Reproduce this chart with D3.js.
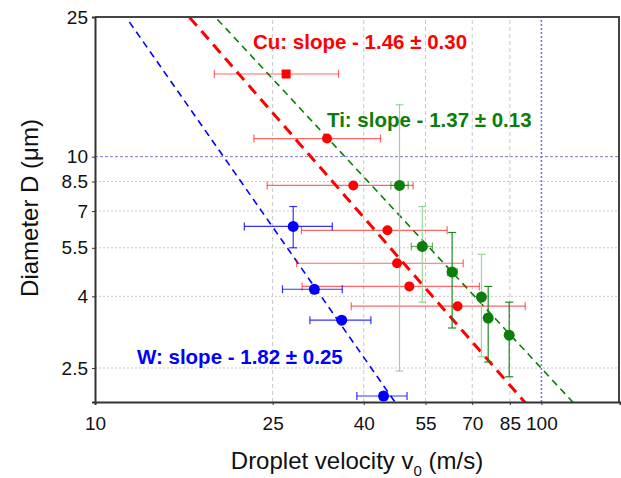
<html>
<head>
  <style>
    body { margin: 0; background: #fff; font-family: "Liberation Sans", Arial, sans-serif; }
    .tick text { font-size: 19px; fill: #111; }
  </style>
</head>
<body>
  <div id="chart"></div>
  <script src="https://d3js.org/d3.v7.min.js"></script>
  <script>
    // ticks
    var xTicks = [10, 25, 40, 55, 70, 85, 100];
    var yTicks = [2.5, 4, 5.5, 7, 8.5, 10, 25];

    // Cu: velocity, diameter, velocity error range
    var cuV   = [26.8, 33.1, 37.9, 45.2, 47.5, 50.6, 64.9];
    var cuD   = [17.2, 11.26, 8.28, 6.17, 4.97, 4.27, 3.75];
    var cuVlo = [18.5, 22.7, 24.3, 29.0, 28.3, 29.1, 37.5];
    var cuVhi = [35.1, 43.6, 51.6, 61.5, 66.8, 72.6, 92.0];

    // Ti
    var tiV   = [48.1, 54.1, 63.1, 73.4, 76.0, 84.7];
    var tiD   = [8.28, 5.55, 4.69, 3.98, 3.47, 3.10];
    var tiDlo = [2.45, 3.85, 3.25, 2.69, 2.60, 2.36];
    var tiDhi = [14.06, 7.21, 6.08, 5.27, 4.27, 3.85];
    var tiVlo = [46.0, 51.1, 61.6, 73.4, 76.0, 84.7];
    var tiVhi = [50.3, 57.0, 64.8, 73.4, 76.0, 84.7];

    // W
    var wV   = [27.8, 31.0, 35.7, 44.3];
    var wD   = [6.33, 4.19, 3.42, 2.08];
    var wVlo = [21.6, 26.3, 30.3, 38.6];
    var wVhi = [34.0, 35.8, 41.5, 50.0];
    var wDlo = [5.5, 4.19, 3.42, 2.03];
    var wDhi = [7.21, 4.19, 3.42, 2.13];

    // fits: log10 D = a - s * log10 v
    var fitNames = ["Cu", "Ti", "W"];
    var fitA     = [3.166, 3.137, 3.344];
    var fitSlope = [1.46, 1.37, 1.82];
    var fitErr   = ["0.30", "0.13", "0.25"];

    var width = 621, height = 478;
    var margin = { left: 95, right: 1, top: 17, bottom: 76 };

    var svg = d3.select("#chart").append("svg")
      .attr("width", width).attr("height", height);

    var x = d3.scaleLog().domain([10, 150]).range([margin.left, width - margin.right]);
    var y = d3.scaleLog().domain([2, 25]).range([height - margin.bottom, margin.top]);

    svg.append("clipPath").attr("id", "clip").append("rect")
      .attr("x", margin.left).attr("y", margin.top)
      .attr("width", x.range()[1] - margin.left).attr("height", y.range()[0] - margin.top);

    // grid
    var grid = svg.append("g");
    xTicks.slice(1).forEach(function (t) {
      grid.append("line")
        .attr("x1", x(t)).attr("x2", x(t)).attr("y1", y(2)).attr("y2", y(25))
        .attr("stroke", t === 100 ? "#6b6bf0" : "#c8c8c8")
        .attr("stroke-width", t === 100 ? 1.5 : 1)
        .attr("stroke-dasharray", t === 100 ? "2,2" : "4,3");
    });
    yTicks.slice(0, -1).forEach(function (t) {
      grid.append("line")
        .attr("x1", x(10)).attr("x2", x(150)).attr("y1", y(t)).attr("y2", y(t))
        .attr("stroke", t === 10 ? "#7a7ad8" : "#c8c8c8")
        .attr("stroke-width", 1)
        .attr("stroke-dasharray", t === 10 ? "3,2" : "2,2");
    });

    // fit lines
    var fitColor = ["#ff0000", "#0a7d0a", "#0000ff"];
    var fitWidth = [3, 1.6, 1.6];
    var fitDash  = ["11,7", "7,5", "7,5"];
    var vs = d3.range(0, 61).map(function (i) { return 10 * Math.pow(15, i / 60); });
    var line = d3.line().x(function (d) { return x(d[0]); }).y(function (d) { return y(d[1]); });
    var fits = svg.append("g").attr("clip-path", "url(#clip)");
    fitNames.forEach(function (n, k) {
      fits.append("path")
        .attr("d", line(vs.map(function (v) { return [v, Math.pow(10, fitA[k] - fitSlope[k] * Math.log10(v))]; })))
        .attr("fill", "none")
        .attr("stroke", fitColor[k])
        .attr("stroke-width", fitWidth[k])
        .attr("stroke-dasharray", fitDash[k]);
    });

    var marks = svg.append("g").attr("clip-path", "url(#clip)");

    function hbar(g, lo, hi, yy, color, op) {
      g.append("line").attr("x1", x(lo)).attr("x2", x(hi)).attr("y1", y(yy)).attr("y2", y(yy))
        .attr("stroke", color).attr("stroke-opacity", op).attr("stroke-width", 1.2);
      [lo, hi].forEach(function (v) {
        g.append("line").attr("x1", x(v)).attr("x2", x(v)).attr("y1", y(yy) - 4).attr("y2", y(yy) + 4)
          .attr("stroke", color).attr("stroke-opacity", op).attr("stroke-width", 1.2);
      });
    }
    function vbar(g, lo, hi, xx, color, op) {
      g.append("line").attr("x1", x(xx)).attr("x2", x(xx)).attr("y1", y(lo)).attr("y2", y(hi))
        .attr("stroke", color).attr("stroke-opacity", op).attr("stroke-width", 1.2);
      [lo, hi].forEach(function (d) {
        g.append("line").attr("x1", x(xx) - 4).attr("x2", x(xx) + 4).attr("y1", y(d)).attr("y2", y(d))
          .attr("stroke", color).attr("stroke-opacity", op).attr("stroke-width", 1.2);
      });
    }

    // Cu
    cuV.forEach(function (v, i) {
      hbar(marks, cuVlo[i], cuVhi[i], cuD[i], "#ff0000", 0.6);
    });
    // Ti: some bars drawn light, some dark
    var tiCol = ["#8fd08f", "#8fd08f", "#0a7d0a", "#8fd08f", "#0a7d0a", "#0a7d0a"];
    tiV.forEach(function (v, i) {
      vbar(marks, tiDlo[i], tiDhi[i], v, tiCol[i], 0.9);
      if (tiVhi[i] > tiVlo[i]) hbar(marks, tiVlo[i], tiVhi[i], tiD[i], "#0a7d0a", 0.6);
    });
    // W
    wV.forEach(function (v, i) {
      hbar(marks, wVlo[i], wVhi[i], wD[i], "#0000ff", 0.8);
      if (wDhi[i] > wDlo[i]) vbar(marks, wDlo[i], wDhi[i], v, "#0000ff", 0.8);
    });

    // markers
    cuV.forEach(function (v, i) {
      if (i === 0) {
        marks.append("rect").attr("x", x(v) - 4.5).attr("y", y(cuD[i]) - 4.5)
          .attr("width", 9).attr("height", 9).attr("fill", "#ff0000");
      } else {
        marks.append("circle").attr("cx", x(v)).attr("cy", y(cuD[i])).attr("r", 5).attr("fill", "#ff0000");
      }
    });
    tiV.forEach(function (v, i) {
      marks.append("circle").attr("cx", x(v)).attr("cy", y(tiD[i])).attr("r", 5.5).attr("fill", "#0a7d0a");
    });
    wV.forEach(function (v, i) {
      marks.append("circle").attr("cx", x(v)).attr("cy", y(wD[i])).attr("r", 5.5).attr("fill", "#0000ff");
    });

    // frame
    svg.append("line").attr("x1", x(10)).attr("x2", x(150)).attr("y1", y(25)).attr("y2", y(25))
      .attr("stroke", "#444").attr("stroke-width", 2);
    svg.append("line").attr("x1", x(150) - 1).attr("x2", x(150) - 1).attr("y1", y(25)).attr("y2", y(2))
      .attr("stroke", "#444").attr("stroke-width", 2);

    // axes
    var xAxis = svg.append("g").attr("transform", "translate(0," + y(2) + ")")
      .call(d3.axisBottom(x).tickValues(xTicks).tickFormat(d3.format("d")).tickSize(3).tickPadding(12));
    var yAxis = svg.append("g").attr("transform", "translate(" + x(10) + ",0)")
      .call(d3.axisLeft(y).tickValues(yTicks).tickFormat(function (d) { return d; }).tickSize(3).tickPadding(4));
    [xAxis, yAxis].forEach(function (a) {
      a.select(".domain").attr("stroke", "#333").attr("stroke-width", 2);
      a.selectAll(".tick line").attr("stroke", "#333");
      a.selectAll(".tick text").attr("font-family", "Liberation Sans, Arial, sans-serif");
    });

    // annotations
    var ann = [[253, 49], [327, 127], [137, 364]];
    fitNames.forEach(function (n, k) {
      svg.append("text")
        .attr("x", ann[k][0]).attr("y", ann[k][1])
        .attr("fill", fitColor[k])
        .style("font-size", "20.5px").style("font-weight", "bold")
        .text(n + ": slope - " + fitSlope[k].toFixed(2) + " \u00b1 " + fitErr[k]);
    });

    // axis labels
    var xl = svg.append("text")
      .attr("x", 357).attr("y", 469)
      .attr("text-anchor", "middle")
      .style("font-size", "24px").attr("fill", "#111");
    xl.append("tspan").text("Droplet velocity v");
    xl.append("tspan").attr("dy", 7).style("font-size", "15px").text("0");
    xl.append("tspan").attr("dy", -7).text(" (m/s)");

    svg.append("text")
      .attr("transform", "translate(38,208) rotate(-90)")
      .attr("text-anchor", "middle")
      .style("font-size", "24px").attr("fill", "#111")
      .text("Diameter D (\u03bcm)");
  </script>
</body>
</html>
